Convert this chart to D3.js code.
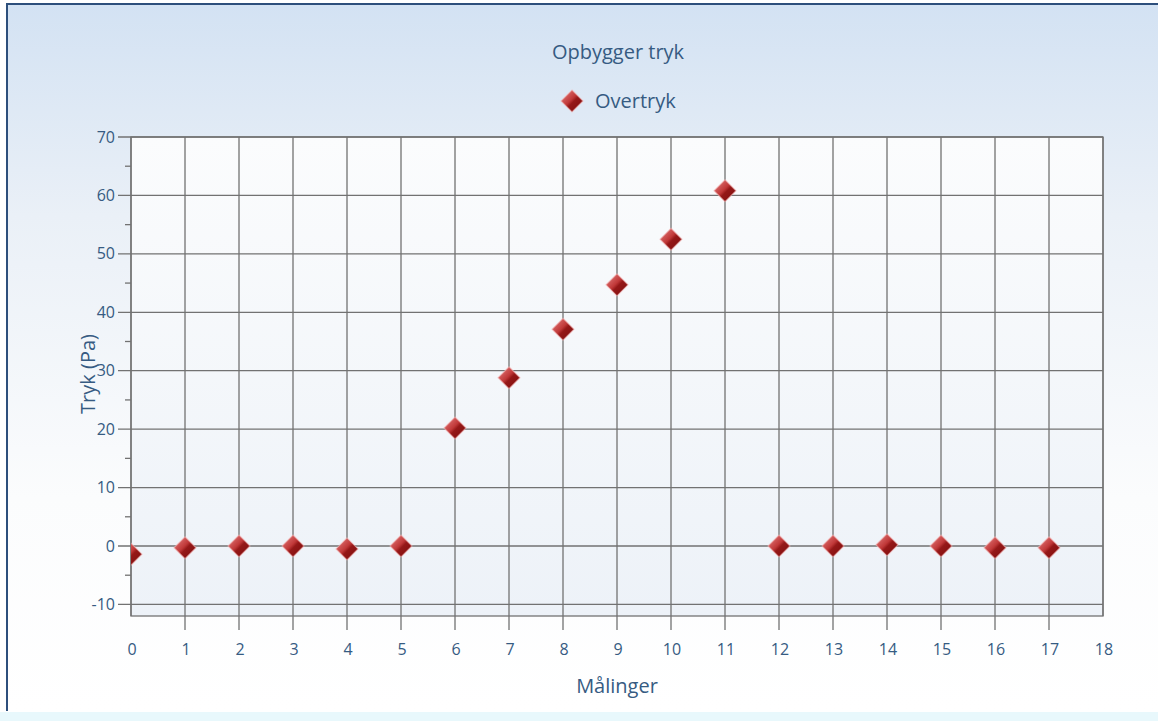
<!DOCTYPE html>
<html><head><meta charset="utf-8">
<script src="https://cdn.jsdelivr.net/npm/d3@7"></script>
<style>
html,body{margin:0;padding:0;background:#fff;}
svg{display:block;font-family:"Open Sans","DejaVu Sans",sans-serif;}
</style></head>
<body>
<script>
const title = "Opbygger tryk";
const seriesName = "Overtryk";
const xLabel = "Målinger";
const yLabel = "Tryk (Pa)";
const measurements = [0,1,2,3,4,5,6,7,8,9,10,11,12,13,14,15,16,17];
const pressure = [-1.4,-0.3,0,0,-0.5,0,20.2,28.8,37.1,44.7,52.5,60.8,0,0,0.2,0,-0.3,-0.3];
const xTicks = [0,1,2,3,4,5,6,7,8,9,10,11,12,13,14,15,16,17,18];
const yTicks = [-10,0,10,20,30,40,50,60,70];
const yMinorTicks = [-5,5,15,25,35,45,55,65];

(function(){
const W=1158,H=721;
const svg=d3.select("body").append("svg").attr("width",W).attr("height",H);
const defs=svg.append("defs");
const bg=defs.append("linearGradient").attr("id","bg").attr("x1",0).attr("y1",0).attr("x2",0).attr("y2",1);
bg.append("stop").attr("offset",0).attr("stop-color","#d3e2f3");
bg.append("stop").attr("offset",0.3).attr("stop-color","#eaf0f7");
bg.append("stop").attr("offset",0.7).attr("stop-color","#fbfcfd");
bg.append("stop").attr("offset",1).attr("stop-color","#ffffff");
const pg=defs.append("linearGradient").attr("id","pg").attr("x1",0).attr("y1",0).attr("x2",0).attr("y2",1);
pg.append("stop").attr("offset",0).attr("stop-color","#fbfcfd");
pg.append("stop").attr("offset",1).attr("stop-color","#edf2f8");
const dg=defs.append("linearGradient").attr("id","dg").attr("x1",0).attr("y1",0).attr("x2",1).attr("y2",1);
dg.append("stop").attr("offset",0).attr("stop-color","#e88888");
dg.append("stop").attr("offset",0.45).attr("stop-color","#c03838");
dg.append("stop").attr("offset",0.55).attr("stop-color","#951818");
dg.append("stop").attr("offset",1).attr("stop-color","#7a0c0c");

svg.append("rect").attr("x",0).attr("y",0).attr("width",W).attr("height",H).attr("fill","#fff");
svg.append("rect").attr("x",7).attr("y",4).attr("width",W-7).attr("height",706).attr("fill","url(#bg)");
svg.append("path").attr("d",`M7,${H-10} L7,4 L${W},4`).attr("fill","none").attr("stroke","#2d4f7c").attr("stroke-width",2);
svg.append("rect").attr("x",0).attr("y",712).attr("width",W).attr("height",9).attr("fill","#e8f8fc");

const pL=131,pR=1103,pT=137,pB=616;
const x=d3.scaleLinear().domain([0,18]).range([pL,pR]);
const ys=d3.scaleLinear().domain([0,70]).range([546,137]);
const yScale=d3.scaleLinear().domain([ys.invert(pB),70]).range([pB,pT]);

svg.append("rect").attr("x",pL).attr("y",pT).attr("width",pR-pL).attr("height",pB-pT).attr("fill","url(#pg)");

const gridColor="#727272";
svg.append("g").selectAll("line").data(yTicks).join("line")
  .attr("x1",pL-13).attr("x2",pR).attr("y1",d=>yScale(d)).attr("y2",d=>yScale(d))
  .attr("stroke",gridColor).attr("stroke-width",1.3);
svg.append("g").selectAll("line").data(yMinorTicks).join("line")
  .attr("x1",pL-6).attr("x2",pL).attr("y1",d=>yScale(d)).attr("y2",d=>yScale(d))
  .attr("stroke",gridColor).attr("stroke-width",1.3);
svg.append("g").selectAll("line").data(xTicks).join("line")
  .attr("x1",d=>x(d)).attr("x2",d=>x(d)).attr("y1",pT).attr("y2",d=>(d===0||d===18)?pB:pB+14)
  .attr("stroke",gridColor).attr("stroke-width",1.3);
svg.append("rect").attr("x",pL).attr("y",pT).attr("width",pR-pL).attr("height",pB-pT)
  .attr("fill","none").attr("stroke",gridColor).attr("stroke-width",1.3);

const txt="#365b82";
svg.append("g").selectAll("text").data(yTicks).join("text")
  .attr("x",pL-16).attr("y",d=>yScale(d)).attr("dy","0.35em").attr("text-anchor","end")
  .attr("fill",txt).attr("font-size",16).text(d=>d);
svg.append("g").selectAll("text").data(xTicks).join("text")
  .attr("x",d=>x(d)+1).attr("y",655).attr("text-anchor","middle")
  .attr("fill",txt).attr("font-size",16).text(d=>d);

svg.append("text").attr("x",617).attr("y",693).attr("text-anchor","middle").attr("fill",txt).attr("font-size",20).text(xLabel);
svg.append("text").attr("transform","translate(95,374) rotate(-90)").attr("text-anchor","middle").attr("fill",txt).attr("font-size",20).text(yLabel);
svg.append("text").attr("x",618).attr("y",59).attr("text-anchor","middle").attr("fill",txt).attr("font-size",20).text(title);

const r=11;
function diamond(g,cx,cy){
  g.append("path").attr("d",`M${cx},${cy-r} L${cx+r},${cy} L${cx},${cy+r} L${cx-r},${cy} Z`)
   .attr("fill","url(#dg)").attr("stroke","#f3b8b8").attr("stroke-opacity",0.6).attr("stroke-width",1.2);
}
const lg=svg.append("g");
diamond(lg,572,101);
lg.append("text").attr("x",595).attr("y",108).attr("fill",txt).attr("font-size",20).text(seriesName);

defs.append("clipPath").attr("id","clip").append("rect").attr("x",pL).attr("y",pT-20).attr("width",pR-pL+20).attr("height",pB-pT+20);
const pts=svg.append("g").attr("clip-path","url(#clip)");
measurements.forEach((m,i)=>diamond(pts,x(m),yScale(pressure[i])));
})();
</script>
</body></html>
